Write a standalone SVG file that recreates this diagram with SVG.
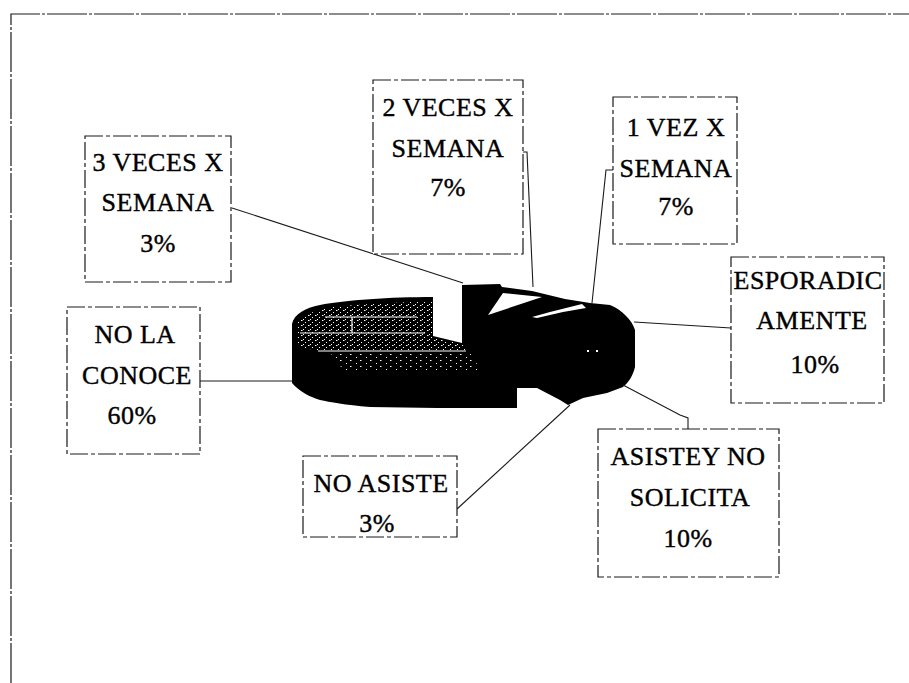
<svg xmlns="http://www.w3.org/2000/svg" width="909" height="683" viewBox="0 0 909 683">
  <style>
    .box { fill: #ffffff; stroke: #1a1a1a; stroke-width: 1.2; stroke-dasharray: 18 3 4 3; }
    .lbl { font-family: Liberation Serif; font-size: 26px; fill: #000; stroke: #000; stroke-width: 0.4; text-anchor: middle; letter-spacing: 0.5px; }
    .con { fill: none; stroke: #1a1a1a; stroke-width: 1.1; }
    .frame { fill: none; stroke: #1a1a1a; stroke-width: 1.2; stroke-dasharray: 40 2 3 2; }
  </style>
  <defs>
    <pattern id="stip" width="7" height="5" patternUnits="userSpaceOnUse">
      <rect width="7" height="5" fill="#000"/>
      <rect x="0" y="0" width="1.5" height="1" fill="#fff"/>
      <rect x="4" y="2" width="1" height="1" fill="#fff"/>
      <rect x="2" y="4" width="1" height="1" fill="#fff"/>
    </pattern>
    <pattern id="stip2" width="10" height="6" patternUnits="userSpaceOnUse">
      <rect width="10" height="6" fill="#000"/>
      <rect x="0" y="0" width="1.5" height="1" fill="#fff"/>
      <rect x="6" y="3" width="1" height="1" fill="#fff"/>
    </pattern>
  </defs>

  <rect width="909" height="683" fill="#ffffff"/>
  <path class="frame" d="M11,683 L11,14 L909,14"/>

  <g id="pie">
    <path fill="#000" d="M292,383 L292,324 C294,314 305,308 320,305 C345,300 390,297 433,297 L433,336 L462,343 L462,285 L500,284 L502,287 L532,291 L565,299 L590,303 L610,305 C622,310 632,320 635,330 L635,367 C633,376 628,383 623,387 L607,393 L583,398 L568,405 L560,400 L537,388 L517,388 L517,408 L437,408 L370,407 C345,405 330,402 320,400 C310,397 300,392 292,383 Z"/>
    <polygon fill="url(#stip)" points="298,345 298,322 310,313 330,307 370,304 410,302 433,302 433,338 462,344 466,350 318,350 300,348"/>
    <polygon fill="url(#stip2)" points="330,353 470,353 482,372 345,372"/>
    <g stroke="#fff" stroke-width="1.2">
      <line x1="325" y1="317" x2="417" y2="317"/>
      <line x1="300" y1="333" x2="425" y2="333"/>
      <line x1="352" y1="317" x2="352" y2="333"/>
      <line x1="318" y1="351" x2="466" y2="351"/>
    </g>
    <polygon fill="#fff" points="488,315 503,293 542,297"/>
    <polygon fill="#fff" points="532,317 550,312 570,307 582,304 586,308 563,312 537,318"/>
    <rect x="587" y="350" width="2" height="2" fill="#fff"/>
    <rect x="596" y="350" width="2" height="2" fill="#fff"/>
  </g>

  <g id="connectors">
    <polyline class="con" points="232,208 463,283"/>
    <polyline class="con" points="523,152 527,152 533,287"/>
    <polyline class="con" points="613,170 606,170 592,303"/>
    <polyline class="con" points="634,322 731,328"/>
    <polyline class="con" points="623,385 680,415 688,418 688,429"/>
    <polyline class="con" points="457,509 570,405"/>
    <polyline class="con" points="200,381 292,381"/>
  </g>

  <g id="n-3veces">
    <rect class="box" x="85" y="136" width="146" height="146"/>
    <text class="lbl" x="158" y="171">3 VECES X</text>
    <text class="lbl" x="158" y="211">SEMANA</text>
    <text class="lbl" x="158" y="252">3%</text>
  </g>
  <g id="n-2veces">
    <rect class="box" x="373" y="80" width="150" height="174"/>
    <text class="lbl" x="448" y="116">2 VECES X</text>
    <text class="lbl" x="448" y="157">SEMANA</text>
    <text class="lbl" x="448" y="196">7%</text>
  </g>
  <g id="n-1vez">
    <rect class="box" x="613" y="97" width="124" height="147"/>
    <text class="lbl" x="676" y="136">1 VEZ X</text>
    <text class="lbl" x="676" y="177">SEMANA</text>
    <text class="lbl" x="676" y="215">7%</text>
  </g>
  <g id="n-esporadic">
    <rect class="box" x="731" y="257" width="153" height="146"/>
    <text class="lbl" x="808" y="289">ESPORADIC</text>
    <text class="lbl" x="812" y="329">AMENTE</text>
    <text class="lbl" x="815" y="373">10%</text>
  </g>
  <g id="n-nolaconoce">
    <rect class="box" x="67" y="307" width="133" height="147"/>
    <text class="lbl" x="135" y="343" letter-spacing="1.5">NO LA</text>
    <text class="lbl" x="137" y="384" letter-spacing="2.5">CONOCE</text>
    <text class="lbl" x="132" y="424">60%</text>
  </g>
  <g id="n-noasiste">
    <rect class="box" x="303" y="456" width="154" height="81"/>
    <text class="lbl" x="381" y="492" letter-spacing="1.2">NO ASISTE</text>
    <text class="lbl" x="377" y="532">3%</text>
  </g>
  <g id="n-asiste">
    <rect class="box" x="598" y="429" width="181" height="148"/>
    <text class="lbl" x="688" y="465" letter-spacing="1.5">ASISTEY NO</text>
    <text class="lbl" x="690" y="506" letter-spacing="1">SOLICITA</text>
    <text class="lbl" x="688" y="547">10%</text>
  </g>
</svg>
